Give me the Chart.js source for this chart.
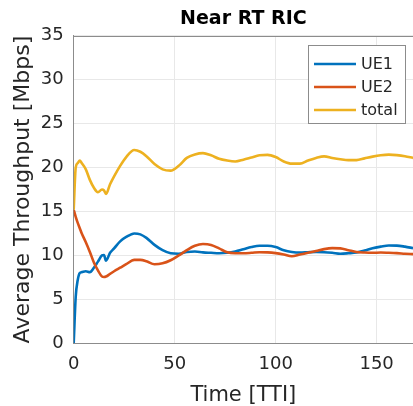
<!DOCTYPE html>
<html>
<head>
<meta charset="utf-8">
<script src="https://cdn.jsdelivr.net/npm/chart.js@4/dist/chart.umd.min.js"></script>
<style>
  html, body { margin: 0; padding: 0; background: #fff; }
  #wrap { width: 413px; height: 406px; }
</style>
</head>
<body>
<div id="wrap"><canvas id="ricChart" width="413" height="406"></canvas></div>
<script>
// Temps (TTI) et débits
const timeTTI = [0, 1, 2, 3, 4, 6, 8, 10, 12, 14, 15, 16, 18, 20, 23, 26, 30, 33, 36, 40, 44, 48, 52, 56, 60, 64, 68, 72, 76, 80, 84, 88, 92, 96, 100, 104, 108, 112, 116, 120, 124, 128, 132, 136, 140, 144, 148, 152, 156, 160, 164, 168];
const ue1Mbps = [0, 5.3, 7.2, 8.0, 8.1, 8.2, 8.1, 8.6, 9.3, 10.0, 10.05, 9.4, 10.3, 10.8, 11.6, 12.1, 12.5, 12.4, 12.0, 11.2, 10.6, 10.25, 10.2, 10.4, 10.45, 10.35, 10.3, 10.25, 10.3, 10.45, 10.7, 10.95, 11.1, 11.1, 10.95, 10.6, 10.4, 10.33, 10.37, 10.4, 10.37, 10.3, 10.2, 10.25, 10.33, 10.55, 10.83, 11.0, 11.13, 11.12, 11.0, 10.83];
const ue2Mbps = [15.2, 14.4, 13.7, 13.1, 12.5, 11.5, 10.4, 9.2, 8.3, 7.6, 7.55, 7.6, 7.9, 8.2, 8.6, 9.0, 9.5, 9.5, 9.35, 9.0, 9.1, 9.45, 10.0, 10.6, 11.1, 11.3, 11.2, 10.8, 10.35, 10.25, 10.25, 10.3, 10.37, 10.35, 10.26, 10.1, 9.9, 10.1, 10.3, 10.5, 10.72, 10.83, 10.8, 10.6, 10.4, 10.33, 10.3, 10.33, 10.3, 10.26, 10.2, 10.15];
const totalMbps = [15.2, 20.0, 20.5, 20.8, 20.5, 19.8, 18.6, 17.7, 17.2, 17.5, 17.4, 17.0, 18.1, 19.0, 20.2, 21.2, 22.0, 21.8, 21.3, 20.4, 19.8, 19.65, 20.2, 21.1, 21.5, 21.65, 21.4, 21.0, 20.8, 20.7, 20.9, 21.15, 21.4, 21.45, 21.2, 20.7, 20.45, 20.45, 20.8, 21.1, 21.28, 21.1, 20.95, 20.85, 20.85, 21.05, 21.25, 21.4, 21.47, 21.42, 21.3, 21.1];
const seriesLabels = ["UE1", "UE2", "total"];
const xTicks = [0, 50, 100, 150];
const yTicks = [0, 5, 10, 15, 20, 25, 30, 35];

const toPoints = values => values.map((v, i) => ({ x: timeTTI[i], y: v }));

// Légende encadrée + bord supérieur des axes
const boxPlugin = {
  id: "boxPlugin",
  afterDraw(chart) {
    const ctx = chart.ctx;
    const area = chart.chartArea;
    ctx.save();
    ctx.strokeStyle = "#8c8c8c";
    ctx.lineWidth = 1;
    ctx.beginPath();
    ctx.moveTo(area.left, Math.round(area.top) + 0.5);
    ctx.lineTo(area.right, Math.round(area.top) + 0.5);
    ctx.stroke();

    const x = 308, y = 45, w = 97, h = 78;
    ctx.fillStyle = "#fff";
    ctx.fillRect(x, y, w, h);
    ctx.strokeStyle = "#8c8c8c";
    ctx.strokeRect(x + 0.5, y + 0.5, w, h);
    ctx.font = '16px "DejaVu Sans"';
    ctx.textBaseline = "middle";
    chart.data.datasets.forEach((ds, i) => {
      const cy = y + 19 + i * 23;
      ctx.strokeStyle = ds.borderColor;
      ctx.lineWidth = 2.5;
      ctx.beginPath();
      ctx.moveTo(x + 6, cy);
      ctx.lineTo(x + 48, cy);
      ctx.stroke();
      ctx.fillStyle = "#262626";
      ctx.fillText(ds.label, x + 53, cy + 1);
    });
    ctx.restore();
  }
};

const ctx = document.getElementById("ricChart").getContext("2d");
new Chart(ctx, {
  type: "line",
  data: {
    datasets: [
      { label: seriesLabels[0], data: toPoints(ue1Mbps), borderColor: "#0072BD", order: 3 },
      { label: seriesLabels[1], data: toPoints(ue2Mbps), borderColor: "#D95319", order: 2 },
      { label: seriesLabels[2], data: toPoints(totalMbps), borderColor: "#EDB120", order: 1 }
    ]
  },
  options: {
    responsive: false,
    animation: false,
    devicePixelRatio: 1,
    layout: { padding: { left: 0, right: 0, top: 0, bottom: 0 } },
    elements: {
      point: { radius: 0 },
      line: { borderWidth: 2.6, cubicInterpolationMode: "monotone", fill: false }
    },
    plugins: {
      legend: { display: false },
      tooltip: { enabled: false },
      title: {
        display: true,
        text: "Near RT RIC",
        fullSize: false,
        color: "#000",
        font: { family: "DejaVu Sans", size: 19, weight: "bold", lineHeight: 1.2 },
        padding: { top: 8, bottom: 5 }
      }
    },
    scales: {
      x: {
        type: "linear",
        min: 0,
        max: 168,
        afterBuildTicks: scale => { scale.ticks = xTicks.map(v => ({ value: v })); },
        afterFit: scale => { scale.height = 62.7; },
        grid: { color: "#e8e8e8", drawTicks: false },
        border: { color: "#8c8c8c", width: 1 },
        ticks: { color: "#262626", padding: 10, font: { family: "DejaVu Sans", size: 18 } },
        title: {
          display: true,
          text: "Time [TTI]",
          color: "#262626",
          font: { family: "DejaVu Sans", size: 21, lineHeight: 1 },
          padding: { top: 0, bottom: 0 }
        }
      },
      y: {
        min: 0,
        max: 35,
        afterBuildTicks: scale => { scale.ticks = yTicks.map(v => ({ value: v })); },
        afterFit: scale => { scale.width = 73.7; },
        grid: { color: "#e8e8e8", drawTicks: false },
        border: { color: "#8c8c8c", width: 1 },
        ticks: { color: "#262626", padding: 10, font: { family: "DejaVu Sans", size: 18 } },
        title: {
          display: true,
          text: "Average Throughput [Mbps]",
          color: "#262626",
          font: { family: "DejaVu Sans", size: 22, lineHeight: 1 },
          padding: { top: 12, bottom: 0 }
        }
      }
    }
  },
  plugins: [boxPlugin]
});
</script>
</body>
</html>
